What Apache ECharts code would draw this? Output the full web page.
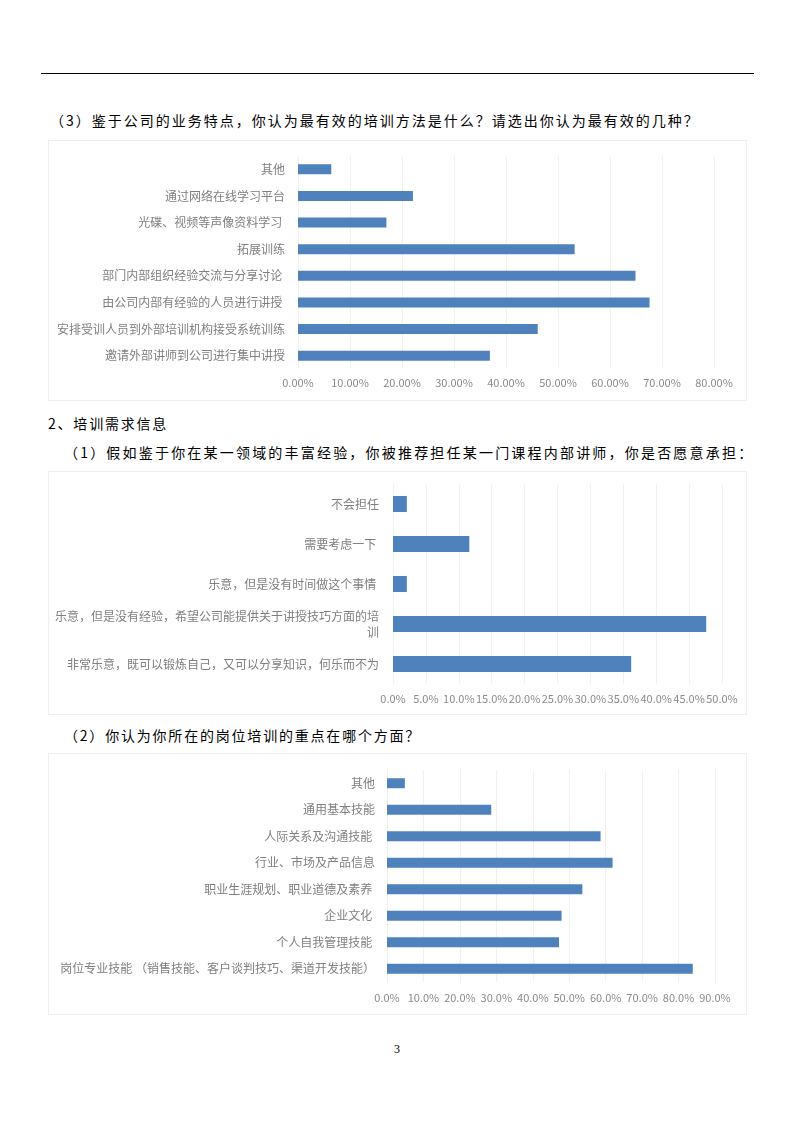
<!DOCTYPE html>
<html>
<head>
<meta charset="utf-8">
<script src="https://cdn.jsdelivr.net/npm/echarts@6/dist/echarts.min.js"></script>
<style>
  html, body { margin: 0; padding: 0; background: #fff; }
  #page { position: relative; width: 794px; height: 1123px; background: #fff; overflow: hidden; }
  .rule { position: absolute; left: 41px; top: 73px; width: 713px; height: 1px; background: #000; }
  .h { position: absolute; font-family: "Noto Sans CJK SC", sans-serif; font-size: 14px; color: #000;
       letter-spacing: 1.8px; white-space: nowrap; height: 20px; line-height: 20px; }
  .box { position: absolute; border: 1px solid #efefef; box-sizing: border-box; }
  .pn { position: absolute; left: 387px; top: 1040px; width: 20px; text-align: center;
        font-family: "Liberation Serif", serif; font-size: 12px; line-height: 18px; color: #000; }
</style>
</head>
<body>
<div id="page">
  <div class="rule"></div>
  <div class="h" style="left:50px; top:110px; letter-spacing:2.0px;">（3）鉴于公司的业务特点，你认为最有效的培训方法是什么？请选出你认为最有效的几种？</div>
  <div class="box" id="c1" style="left:48px; top:140px; width:699px; height:261px;"></div>
  <div class="h" style="left:48px; top:413px;">2、培训需求信息</div>
  <div class="h" style="left:64px; top:442px; letter-spacing:2.2px;">（1）假如鉴于你在某一领域的丰富经验，你被推荐担任某一门课程内部讲师，你是否愿意承担：</div>
  <div class="box" id="c2" style="left:48px; top:471px; width:699px; height:244px;"></div>
  <div class="h" style="left:64px; top:725px;">（2）你认为你所在的岗位培训的重点在哪个方面？</div>
  <div class="box" id="c3" style="left:48px; top:753px; width:699px; height:262px;"></div>
  <div class="pn">3</div>
</div>
<script>
// ---- Data ----
const methodCats = ['其他', '通过网络在线学习平台', '光碟、视频等声像资料学习 ', '拓展训练',
  '部门内部组织经验交流与分享讨论 ', '由公司内部有经验的人员进行讲授 ',
  '安排受训人员到外部培训机构接受系统训练', '邀请外部讲师到公司进行集中讲授'];
const methodVals = [6.4, 22.1, 17.0, 53.2, 64.9, 67.6, 46.1, 36.9];

const lecturerCats = ['不会担任', '需要考虑一下 ', '乐意，但是没有时间做这个事情 ',
  '乐意，但是没有经验，希望公司能提供关于讲授技巧方面的培\n训',
  '非常乐意，既可以锻炼自己，又可以分享知识，何乐而不为'];
const lecturerVals = [2.1, 11.6, 2.1, 47.6, 36.2];

const focusCats = ['其他', '通用基本技能', '人际关系及沟通技能 ', '行业、市场及产品信息',
  '职业生涯规划、职业道德及素养 ', '企业文化 ', '个人自我管理技能 ',
  '岗位专业技能 （销售技能、客户谈判技巧、渠道开发技能）'];
const focusVals = [4.9, 28.6, 58.6, 61.9, 53.6, 47.9, 47.2, 83.9];

const FONT = '"Noto Sans CJK SC", sans-serif';

function makeChart(id, cats, vals, cfg) {
  const chart = echarts.init(document.getElementById(id), null, { renderer: 'canvas' });
  chart.setOption({
    animation: false,
    grid: cfg.grid,
    xAxis: {
      type: 'value', min: 0, max: cfg.max, interval: cfg.interval,
      axisLine: { show: false }, axisTick: { show: false },
      splitLine: { show: true, lineStyle: { color: '#f0f0f0', width: 1 } },
      axisLabel: {
        color: '#8a8a8a', fontFamily: FONT, fontSize: 11, margin: cfg.xMargin,
        formatter: v => v.toFixed(cfg.decimals) + '%'
      }
    },
    yAxis: {
      type: 'category', data: cats, inverse: true,
      axisLine: { show: false }, axisTick: { show: false },
      axisLabel: {
        color: '#7f7f7f', fontFamily: FONT, fontSize: 12, margin: cfg.yMargin,
        lineHeight: 16, align: 'right'
      }
    },
    series: [{
      type: 'bar', data: vals, barWidth: cfg.barWidth,
      itemStyle: { color: '#4f81bd' }
    }]
  });
}

makeChart('c1', methodCats, methodVals, {
  grid: { left: 249, right: 32, top: 15, bottom: 31 },
  max: 80, interval: 10, decimals: 2, barWidth: 10, xMargin: 8, yMargin: 13
});
makeChart('c2', lecturerCats, lecturerVals, {
  grid: { left: 344, right: 24, top: 12, bottom: 30 },
  max: 50, interval: 5, decimals: 1, barWidth: 16, xMargin: 9, yMargin: 14
});
makeChart('c3', focusCats, focusVals, {
  grid: { left: 338, right: 31, top: 16, bottom: 32 },
  max: 90, interval: 10, decimals: 1, barWidth: 10, xMargin: 10, yMargin: 12
});
</script>
</body>
</html>
